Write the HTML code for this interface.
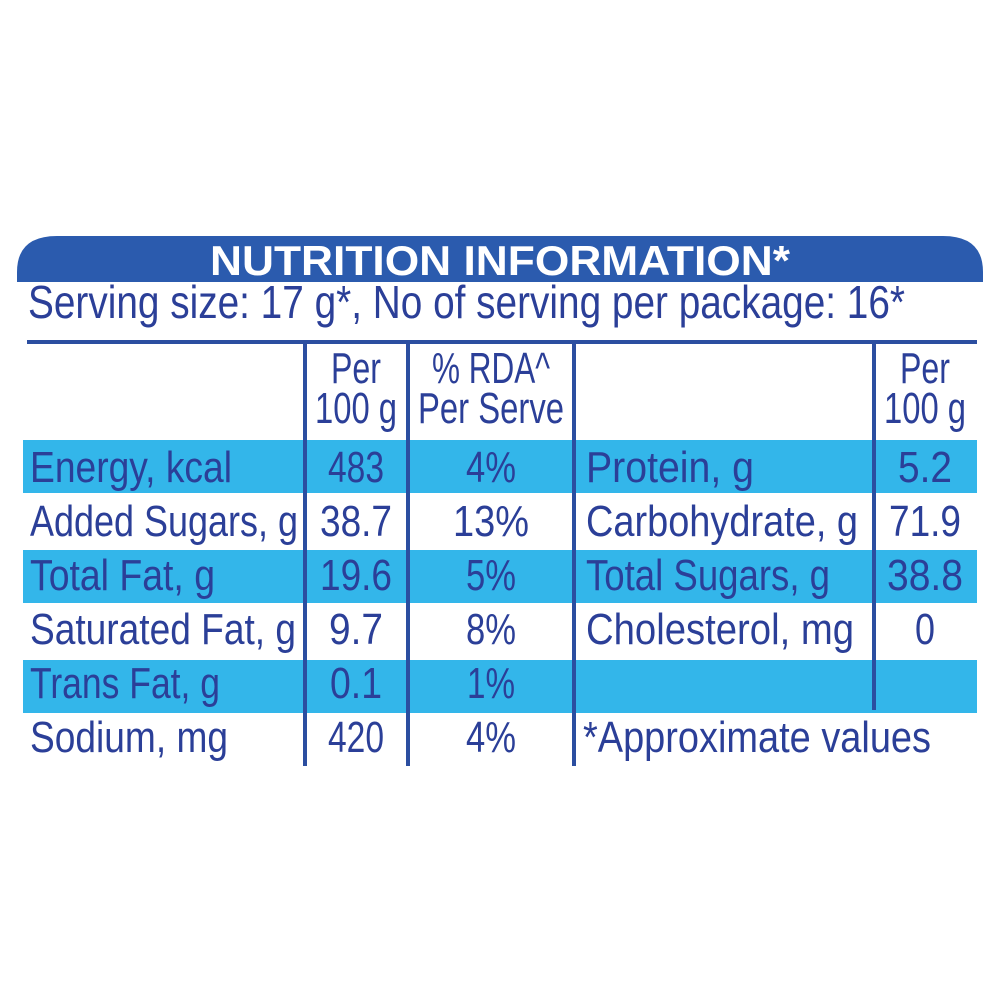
<!DOCTYPE html>
<html><head><meta charset="utf-8"><style>html,body{margin:0;padding:0;background:#fff}svg{display:block}</style></head>
<body>
<svg width="1000" height="1000" viewBox="0 0 1000 1000" xmlns="http://www.w3.org/2000/svg" font-family="Liberation Sans, sans-serif">
<rect width="1000" height="1000" fill="#fff"/>
<path d="M17 282 L17 272 Q17 236 57 236 L943 236 Q983 236 983 272 L983 282 Z" fill="#2b5bae"/>
<text x="500" y="275" text-anchor="middle" font-size="42" font-weight="bold" fill="#fff" textLength="580" lengthAdjust="spacingAndGlyphs">NUTRITION INFORMATION*</text>
<g fill="#2b3f98">
<text x="28" y="318" font-size="46" textLength="877" lengthAdjust="spacingAndGlyphs">Serving size: 17 g*, No of serving per package: 16*</text>
</g>
<g fill="#33b6ea">
<rect x="23" y="440" width="954" height="53"/>
<rect x="23" y="550" width="954" height="53"/>
<rect x="23" y="660" width="954" height="53"/>
</g>
<rect x="27" y="340" width="950" height="4" fill="#2b4ea0"/>
<g fill="#2b4ea0">
<rect x="303" y="342" width="4" height="424"/>
<rect x="406" y="342" width="4" height="424"/>
<rect x="572" y="342" width="4" height="424"/>
<rect x="872" y="342" width="4" height="368"/>
</g>
<g fill="#2b3f98" font-size="44">
<text x="356" y="383" text-anchor="middle" textLength="50" lengthAdjust="spacingAndGlyphs">Per</text>
<text x="356" y="423" text-anchor="middle" textLength="82" lengthAdjust="spacingAndGlyphs">100 g</text>
<text x="491" y="383" text-anchor="middle" textLength="118" lengthAdjust="spacingAndGlyphs">% RDA^</text>
<text x="491" y="423" text-anchor="middle" textLength="146" lengthAdjust="spacingAndGlyphs">Per Serve</text>
<text x="925" y="383" text-anchor="middle" textLength="50" lengthAdjust="spacingAndGlyphs">Per</text>
<text x="925" y="423" text-anchor="middle" textLength="82" lengthAdjust="spacingAndGlyphs">100 g</text>

<text x="30" y="482" textLength="202" lengthAdjust="spacingAndGlyphs">Energy, kcal</text>
<text x="30" y="536" textLength="268" lengthAdjust="spacingAndGlyphs">Added Sugars, g</text>
<text x="30" y="590" textLength="185" lengthAdjust="spacingAndGlyphs">Total Fat, g</text>
<text x="30" y="644" textLength="266" lengthAdjust="spacingAndGlyphs">Saturated Fat, g</text>
<text x="30" y="698" textLength="190" lengthAdjust="spacingAndGlyphs">Trans Fat, g</text>
<text x="30" y="752" textLength="198" lengthAdjust="spacingAndGlyphs">Sodium, mg</text>

<g text-anchor="middle">
<text x="356" y="482" textLength="56" lengthAdjust="spacingAndGlyphs">483</text>
<text x="356" y="536" textLength="72" lengthAdjust="spacingAndGlyphs">38.7</text>
<text x="356" y="590" textLength="72" lengthAdjust="spacingAndGlyphs">19.6</text>
<text x="356" y="644" textLength="54" lengthAdjust="spacingAndGlyphs">9.7</text>
<text x="356" y="698" textLength="52" lengthAdjust="spacingAndGlyphs">0.1</text>
<text x="356" y="752" textLength="56" lengthAdjust="spacingAndGlyphs">420</text>
<text x="491" y="482" textLength="50" lengthAdjust="spacingAndGlyphs">4%</text>
<text x="491" y="536" textLength="76" lengthAdjust="spacingAndGlyphs">13%</text>
<text x="491" y="590" textLength="50" lengthAdjust="spacingAndGlyphs">5%</text>
<text x="491" y="644" textLength="50" lengthAdjust="spacingAndGlyphs">8%</text>
<text x="491" y="698" textLength="48" lengthAdjust="spacingAndGlyphs">1%</text>
<text x="491" y="752" textLength="50" lengthAdjust="spacingAndGlyphs">4%</text>
<text x="925" y="482" textLength="54" lengthAdjust="spacingAndGlyphs">5.2</text>
<text x="925" y="536" textLength="72" lengthAdjust="spacingAndGlyphs">71.9</text>
<text x="925" y="590" textLength="76" lengthAdjust="spacingAndGlyphs">38.8</text>
<text x="925" y="644" textLength="20" lengthAdjust="spacingAndGlyphs">0</text>
</g>
<text x="586" y="482" textLength="168" lengthAdjust="spacingAndGlyphs">Protein, g</text>
<text x="586" y="536" textLength="272" lengthAdjust="spacingAndGlyphs">Carbohydrate, g</text>
<text x="586" y="590" textLength="244" lengthAdjust="spacingAndGlyphs">Total Sugars, g</text>
<text x="586" y="644" textLength="268" lengthAdjust="spacingAndGlyphs">Cholesterol, mg</text>
<text x="583" y="752" textLength="348" lengthAdjust="spacingAndGlyphs">*Approximate values</text>
</g>
</svg>
</body></html>
